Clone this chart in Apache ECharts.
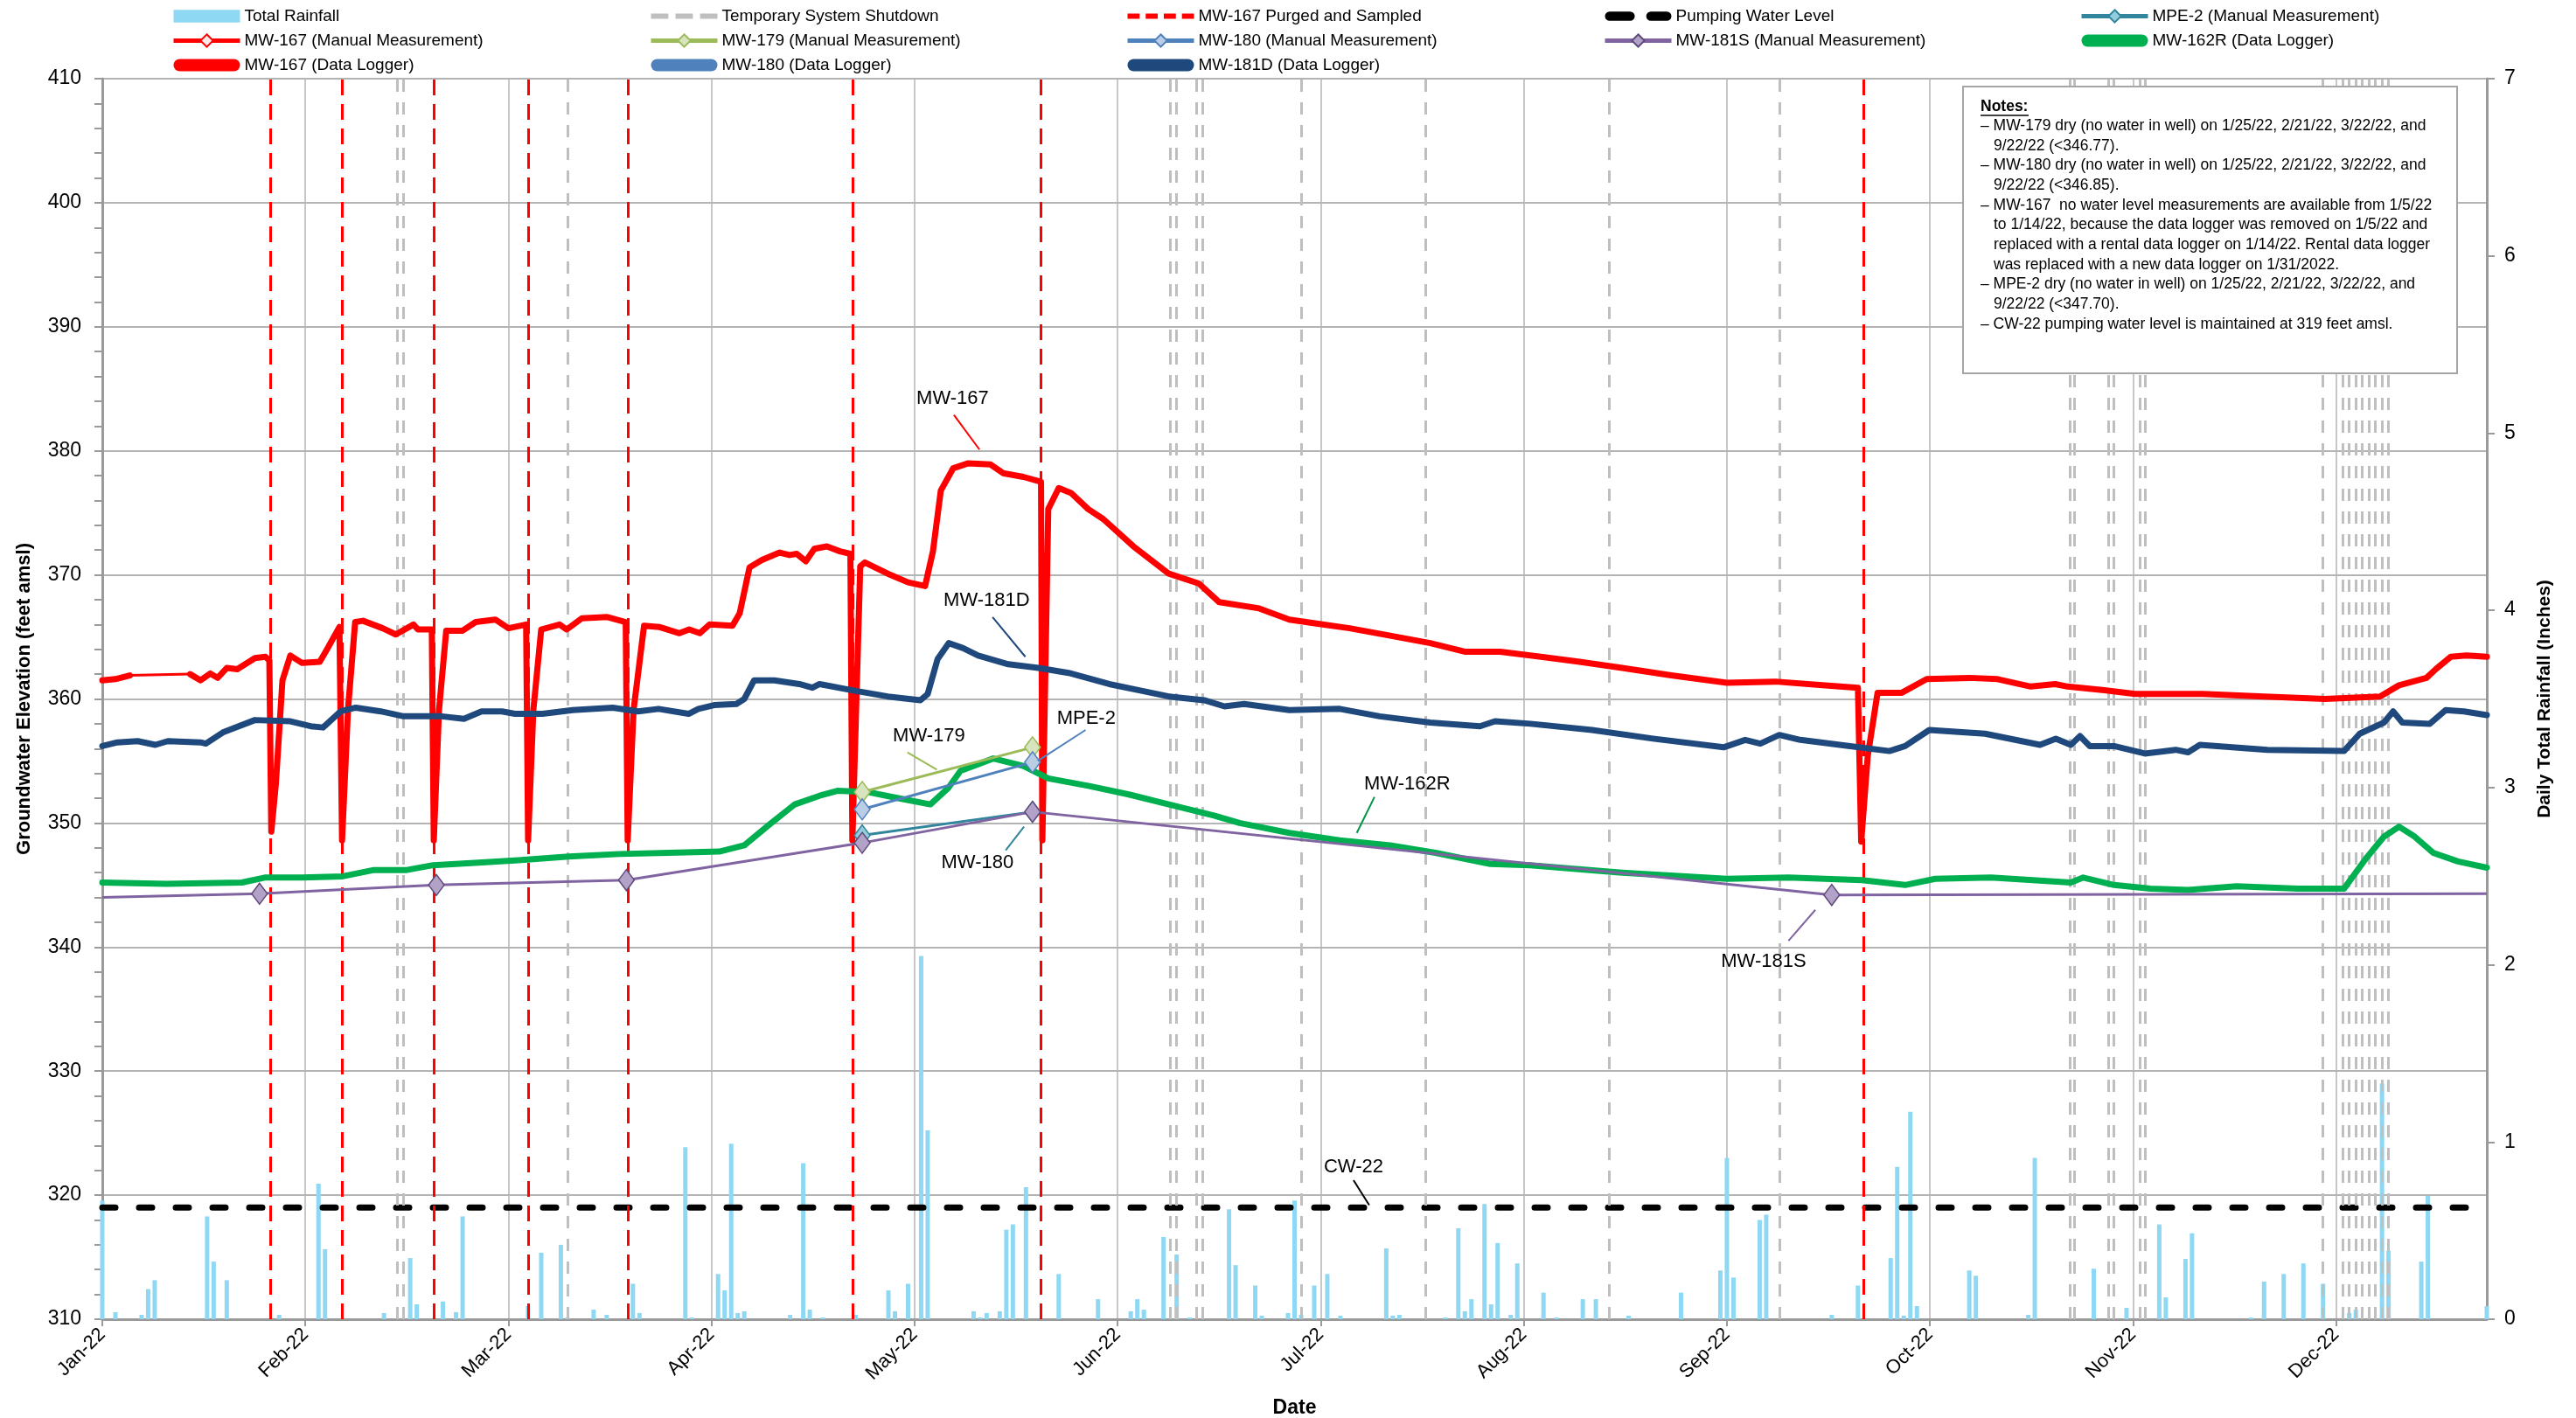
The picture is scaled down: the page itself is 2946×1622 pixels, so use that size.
<!DOCTYPE html>
<html>
<head>
<meta charset="utf-8">
<script src="https://cdn.jsdelivr.net/npm/echarts@6/dist/echarts.min.js"></script>
<style>
html, body { margin: 0; padding: 0; background: #fff; }
#chart { width: 2946px; height: 1622px; }
</style>
</head>
<body>
<div id="chart"></div>
<script>
"use strict";

// ---- data (x = day of 2022, 0 = Jan 1) ----
var monthLabels = ['Jan-22', 'Feb-22', 'Mar-22', 'Apr-22', 'May-22', 'Jun-22',
    'Jul-22', 'Aug-22', 'Sep-22', 'Oct-22', 'Nov-22', 'Dec-22'];

var rainDays = [0, 2, 6, 7, 8, 16, 17, 19, 27, 33, 34, 43, 47, 48, 52, 54, 55, 65, 67, 70, 71, 75, 77, 81, 82,
    89, 90, 94, 95, 96, 97, 98, 105, 107, 108, 110, 115, 120, 121, 123, 125, 126, 133, 134, 135, 137, 138, 139,
    141, 146, 152, 157, 158, 159, 162, 164, 166, 172, 173, 176, 177, 181, 182, 183, 185, 187, 189, 196, 197,
    198, 205, 207, 208, 209, 211, 212, 213, 215, 216, 220, 222, 226, 228, 233, 241, 247, 248, 249, 253, 254,
    264, 268, 273, 274, 275, 276, 277, 285, 286, 294, 295, 304, 309, 314, 315, 318, 319, 328, 330, 333, 336,
    339, 343, 344, 348, 349, 354, 355, 364];
var rainInches = [0.67, 0.04, 0.025, 0.17, 0.22, 0.58, 0.325, 0.22, 0.025, 0.765, 0.395, 0.035, 0.345, 0.084,
    0.10, 0.04, 0.58, 0.074, 0.375, 0.42, 0.01, 0.054, 0.025, 0.20, 0.035,
    0.97, 0.01, 0.255, 0.163, 0.99, 0.035, 0.045, 0.025, 0.88, 0.054, 0.01, 0.025, 0.163, 0.045, 0.20, 2.05,
    1.065, 0.045, 0.01, 0.035, 0.045, 0.505, 0.535,
    0.745, 0.255, 0.113, 0.045, 0.113, 0.054, 0.464, 0.365, 0.01, 0.62, 0.305, 0.19, 0.02, 0.035, 0.67, 0.025,
    0.19, 0.255, 0.02, 0.40, 0.02,
    0.025, 0.01, 0.513, 0.045, 0.113, 0.65, 0.084, 0.43, 0.025, 0.315, 0.15, 0.01, 0.113, 0.113, 0.02, 0.15,
    0.275, 0.91, 0.235, 0.56, 0.59,
    0.025, 0.19, 0.345, 0.86, 0.02, 1.17, 0.074, 0.275, 0.245, 0.025, 0.91, 0.285, 0.064, 0.535, 0.123, 0.34,
    0.485, 0.01, 0.212, 0.255, 0.315,
    0.20, 0.035, 0.054, 1.33, 0.385, 0.325, 0.695, 0.074];

var shutdownDays = [45, 46, 71, 163, 164, 167, 168, 183, 202, 230, 256, 300.3, 301, 306.3, 307, 311, 311.8,
    339, 342, 343, 344, 345, 346, 347, 348, 349];
var purgeDays = [25.6, 36.6, 50.6, 65.0, 80.3, 114.5, 143.2, 268.8];

var pumpingLevel = [[0, 319], [364, 319]];

var mw167Logger = [[0, 361.5], [2, 361.6], [4.2, 361.9], [8.8, null], [13.4, 362.0], [15, 361.5], [16.5, 362.05],
    [17.6, 361.7], [19, 362.5], [20.6, 362.4], [23.3, 363.3], [24.9, 363.4], [25.5, 363.1], [25.8, 349.3],
    [26.5, 353.2], [27.5, 361.5], [28.7, 363.5], [30.5, 362.9], [33.2, 363.0], [34.3, 364.0], [36.2, 365.8],
    [36.6, 348.6], [37.5, 359.1], [38.6, 366.2], [39.8, 366.3], [42.8, 365.7], [44.8, 365.2], [47.5, 366.0],
    [48.2, 365.6], [50.3, 365.6], [50.6, 348.6], [51.4, 359.1], [52.5, 365.5], [55, 365.5], [57, 366.2],
    [60, 366.4], [62, 365.7], [64.7, 366.0], [65, 348.6], [65.8, 359.1], [67, 365.6], [69.8, 366.0],
    [70.9, 365.6], [73.2, 366.5], [77.1, 366.6], [79.9, 366.2], [80.2, 348.6], [81.1, 359.1], [82.7, 365.9],
    [85, 365.8], [88.1, 365.3], [89.6, 365.6], [91.2, 365.3], [92.7, 366.0], [96.2, 365.9], [97.3, 366.9],
    [98.8, 370.6], [100.7, 371.2], [103.4, 371.8], [104.9, 371.6], [106, 371.7], [107.4, 371.1], [108.7, 372.1],
    [110.6, 372.3], [112.6, 371.9], [114.2, 371.7], [114.5, 348.6], [115.7, 370.7], [116.4, 371.0],
    [119.9, 370.1], [123, 369.4], [125.6, 369.1], [126.8, 371.9], [128, 376.8], [129.9, 378.6], [132.2, 379.0],
    [135.6, 378.9], [137.5, 378.2], [140.6, 377.9], [143.3, 377.5], [143.5, 348.6], [144.4, 375.3],
    [146, 377.0], [147.9, 376.6], [150.5, 375.3], [152.8, 374.5], [157.4, 372.3], [162.8, 370.1],
    [167.4, 369.3], [170.5, 367.8], [176.6, 367.3], [181.2, 366.4], [185.1, 366.1], [190.4, 365.7],
    [196.6, 365.1], [202.7, 364.5], [208.1, 363.8], [213.4, 363.8], [219.6, 363.4], [225.5, 363.0],
    [232, 362.5], [239.5, 361.9], [248, 361.3], [255.4, 361.4], [263, 361.1], [268, 360.9], [268.5, 348.5],
    [269.5, 355.4], [271, 360.5], [274.7, 360.5], [278.5, 361.6], [285, 361.7], [289.3, 361.6], [294.4, 361.0],
    [298.1, 361.2], [300, 361.0], [305.6, 360.7], [310.3, 360.4], [315.9, 360.4], [320.6, 360.4], [330, 360.2],
    [339.3, 360.0], [347.7, 360.2], [350.6, 361.1], [354.8, 361.7], [356.2, 362.4], [358.5, 363.4],
    [360.9, 363.5], [364, 363.4]];

var mw181dLogger = [[0, 356.2], [2.3, 356.5], [5.4, 356.6], [8.1, 356.3], [10, 356.6], [15, 356.5], [15.8, 356.4],
    [18.4, 357.3], [23.3, 358.3], [28.7, 358.2], [31.8, 357.8], [33.7, 357.7], [36.4, 359.0], [38.7, 359.3],
    [42.5, 359.0], [46, 358.6], [51.8, 358.6], [55.2, 358.4], [57.9, 359.0], [61, 359.0], [63, 358.8],
    [67.2, 358.8], [71.8, 359.1], [77.9, 359.3], [81.8, 359.0], [84.9, 359.2], [89.5, 358.8], [91, 359.2],
    [93.4, 359.5], [96.8, 359.6], [98, 360.0], [99.5, 361.5], [102.6, 361.5], [106.4, 361.2], [108.4, 360.9],
    [109.5, 361.2], [114.5, 360.7], [119.9, 360.2], [124.9, 359.9], [126, 360.4], [127.5, 363.2],
    [129.2, 364.5], [131.4, 364.1], [133.7, 363.5], [138.3, 362.8], [142.9, 362.5], [147.5, 362.1],
    [153.7, 361.2], [158.3, 360.7], [162.8, 360.2], [168.2, 359.9], [171.3, 359.4], [174.3, 359.6],
    [181.2, 359.1], [188.9, 359.2], [195, 358.6], [202.7, 358.1], [210.3, 357.8], [212.6, 358.2], [218, 358.0],
    [227.4, 357.5], [236.7, 356.8], [247.5, 356.1], [250.8, 356.7], [253.1, 356.4], [256, 357.1],
    [259.2, 356.7], [266.8, 356.2], [272.8, 355.8], [275.2, 356.2], [278.9, 357.5], [287.4, 357.2],
    [295.8, 356.3], [298.2, 356.8], [300.5, 356.3], [301.9, 357.0], [303.4, 356.2], [307.1, 356.2],
    [311.8, 355.6], [316.5, 355.9], [318.4, 355.7], [320.2, 356.3], [330.5, 355.9], [342.2, 355.8],
    [344.6, 357.2], [348.3, 358.1], [349.7, 359.0], [351.1, 358.1], [355.3, 358.0], [357.7, 359.1],
    [360.5, 359.0], [364, 358.7]];

var mw162rLogger = [[0, 345.2], [9.8, 345.1], [21.3, 345.2], [24.8, 345.6], [30.5, 345.6], [36.7, 345.7],
    [41.3, 346.2], [46.3, 346.2], [50.5, 346.6], [57.4, 346.8], [63.5, 347.0], [71.2, 347.3], [78.9, 347.5],
    [86.5, 347.6], [94.2, 347.7], [98, 348.2], [101.9, 349.9], [105.7, 351.5], [109.5, 352.2], [112.2, 352.6],
    [116.8, 352.5], [121.5, 352.0], [126.4, 351.5], [129.1, 352.8], [131, 354.2], [136, 355.2], [140.6, 354.6],
    [144.4, 353.6], [150.5, 353.0], [156.7, 352.3], [162.8, 351.5], [169.7, 350.6], [173.6, 350.0],
    [181.2, 349.2], [188.9, 348.6], [196.6, 348.2], [203.5, 347.6], [211.9, 346.7], [218, 346.6], [232, 346.0],
    [248, 345.5], [257.4, 345.6], [268.6, 345.4], [275.2, 345.0], [279.8, 345.5], [288.3, 345.6],
    [300.5, 345.2], [302.4, 345.6], [307.1, 345.0], [312.7, 344.7], [318.4, 344.6], [325.8, 344.9],
    [335.2, 344.7], [342.2, 344.7], [345.5, 347.1], [348.3, 348.9], [350.6, 349.7], [353, 348.9],
    [355.8, 347.6], [359.6, 346.9], [364, 346.4]];

var mw180Logger = [];
var mw167Manual = [[4.2, 361.9], [13.4, 362.0]];
var mw179Manual = [[116, 352.5], [142, 356.1]];
var mw180Manual = [[116, 351.1], [142, 354.9]];
var mpe2Manual = [[116, 349.0], [142, 350.9]];
var mw181sManual = [[0, 344.0], [24, 344.3], [51, 345.0], [80, 345.4], [116, 348.4], [142, 350.9],
    [264, 344.2], [364, 344.3]];

var notesLines = [
    ['– MW-179 dry (no water in well) on 1/25/22, 2/21/22, 3/22/22, and', 0],
    ['9/22/22 (<346.77).', 1],
    ['– MW-180 dry (no water in well) on 1/25/22, 2/21/22, 3/22/22, and', 0],
    ['9/22/22 (<346.85).', 1],
    ['– MW-167  no water level measurements are available from 1/5/22', 0],
    ['to 1/14/22, because the data logger was removed on 1/5/22 and', 1],
    ['replaced with a rental data logger on 1/14/22. Rental data logger', 1],
    ['was replaced with a new data logger on 1/31/2022.', 1],
    ['– MPE-2 dry (no water in well) on 1/25/22, 2/21/22, 3/22/22, and', 0],
    ['9/22/22 (<347.70).', 1],
    ['– CW-22 pumping water level is maintained at 319 feet amsl.', 0]
];

// label callouts: text anchor and leader line in data coordinates
var callouts = [
    { text: 'MW-167', at: [129.8, 384.2], from: [130.0, 382.9], to: [133.9, 380.1], color: '#ff0000' },
    { text: 'MW-181D', at: [135.0, 367.9], from: [135.9, 366.6], to: [140.9, 363.4], color: '#1f497d' },
    { text: 'MW-179', at: [126.2, 357.0], from: [122.9, 355.7], to: [127.4, 354.3], color: '#9bbb59' },
    { text: 'MPE-2', at: [150.2, 358.4], from: [150.1, 357.5], to: [142.8, 355.0], color: '#4f81bd' },
    { text: 'MW-180', at: [133.6, 346.8], from: [137.9, 347.8], to: [140.7, 349.7], color: '#31859c' },
    { text: 'MW-162R', at: [199.2, 353.1], from: [194.2, 352.1], to: [191.5, 349.2], color: '#00964a' },
    { text: 'MW-181S', at: [253.6, 338.85], from: [257.4, 340.5], to: [261.5, 343.0], color: '#8064a2' },
    { text: 'CW-22', at: [191.0, 322.3], from: [191.0, 321.2], to: [193.4, 319.2], color: '#000000' }
];

var FONT = "'Liberation Sans', Arial, sans-serif";
var GRID = '#b4b4b4';
var AXIS = '#9a9a9a';

var chart = echarts.init(document.getElementById('chart'));

var iconPill = 'path://M7,0h62a7,7 0 0 1 0,14h-62a7,7 0 0 1 0,-14z';
var iconRain = 'path://M0,0h69v13h-69z';
var iconGrayDash = 'path://M0,0h17v5h-17z M24,0h17v5h-17z M48,0h17v5h-17z';
var iconRedDash = 'path://M0,0h12v5h-12z M18,0h12v5h-12z M36,0h12v5h-12z M54,0h12v5h-12z';
var iconPump = 'path://M4,0h18a4,4 0 0 1 0,8h-18a4,4 0 0 1 0,-8z M40,0h14a4,4 0 0 1 0,8h-14a4,4 0 0 1 0,-8z';

function flat(name, icon) {
    return { name: name, icon: icon, itemStyle: { borderWidth: 0 } };
}
function manualItem(name) {
    return { name: name, lineStyle: { width: 5 } };
}

var legendCols = [
    [flat('Total Rainfall', iconRain), manualItem('MW-167 (Manual Measurement)'), flat('MW-167 (Data Logger)', iconPill)],
    [flat('Temporary System Shutdown', iconGrayDash), manualItem('MW-179 (Manual Measurement)'), flat('MW-180 (Data Logger)', iconPill)],
    [flat('MW-167 Purged and Sampled', iconRedDash), manualItem('MW-180 (Manual Measurement)'), flat('MW-181D (Data Logger)', iconPill)],
    [flat('Pumping Water Level', iconPump), manualItem('MW-181S (Manual Measurement)')],
    [manualItem('MPE-2 (Manual Measurement)'), flat('MW-162R (Data Logger)', iconPill)]
];
var legendX = [191, 737, 1282, 1828, 2373];

function loggerSeries(name, data, color) {
    return {
        name: name, type: 'line', data: data, symbol: 'none', z: 5,
        itemStyle: { color: color },
        lineStyle: { color: color, width: 7, cap: 'round', join: 'round' }
    };
}

function manualSeries(name, data, color, fill) {
    return {
        name: name, type: 'line', z: 6,
        data: data.map(function (p, i) {
            // end points carry the line to the axis edges only
            if (name.indexOf('181S') >= 0 && (i === 0 || i === data.length - 1)) {
                return { value: p, symbol: 'none' };
            }
            return p;
        }),
        symbol: 'diamond', symbolSize: [18, 24],
        itemStyle: { color: fill, borderColor: color, borderWidth: 1.5 },
        lineStyle: { color: color, width: 3 }
    };
}

function vLineSeries(name, days, color, dash) {
    return {
        name: name, type: 'line', data: [], symbol: 'none', z: 3,
        itemStyle: { color: color },
        lineStyle: { color: color, width: 3, type: dash },
        markLine: {
            silent: true, symbol: ['none', 'none'], animation: false,
            label: { show: false },
            lineStyle: { color: color, width: 3, type: dash },
            data: days.map(function (d) { return { xAxis: d }; })
        }
    };
}

var option = {
    animation: false,
    backgroundColor: '#fff',
    textStyle: { fontFamily: FONT, color: '#000' },
    grid: { left: 117, right: 102, top: 90, bottom: 113, outerBoundsMode: 'none' },
    legend: legendCols.map(function (col, i) {
        return {
            left: legendX[i], top: 4, orient: 'vertical', selectedMode: false,
            itemWidth: 76, itemHeight: 18, itemGap: 9,
            textStyle: { fontSize: 19, color: '#000', fontFamily: FONT },
            data: col
        };
    }),
    xAxis: {
        type: 'value', min: 0, max: 364, interval: 31,
        name: 'Date', nameLocation: 'middle', nameGap: 90,
        nameTextStyle: { fontSize: 23, fontWeight: 'bold', color: '#000', fontFamily: FONT },
        axisLine: { show: true, onZero: false, lineStyle: { color: AXIS, width: 3 } },
        axisTick: { show: true, length: 8, lineStyle: { color: AXIS, width: 2 } },
        axisLabel: {
            rotate: 45, fontSize: 22, color: '#000', margin: 14, showMaxLabel: false,
            formatter: function (v) {
                var i = Math.round(v / 31);
                return Math.abs(v - i * 31) < 0.01 && monthLabels[i] ? monthLabels[i] : '';
            }
        },
        splitLine: { show: true, lineStyle: { color: GRID, width: 1.5 } }
    },
    yAxis: [{
        type: 'value', min: 310, max: 410, interval: 10, position: 'left',
        name: 'Groundwater Elevation (feet amsl)', nameLocation: 'middle', nameGap: 78, nameRotate: 90,
        nameTextStyle: { fontSize: 22, fontWeight: 'bold', color: '#000', fontFamily: FONT },
        axisLine: { show: true, lineStyle: { color: AXIS, width: 3 } },
        axisTick: { show: true, length: 9, lineStyle: { color: AXIS, width: 2 } },
        minorTick: { show: true, splitNumber: 5, length: 9, lineStyle: { color: AXIS, width: 2 } },
        axisLabel: { fontSize: 23, color: '#000', margin: 24 },
        splitLine: { show: true, lineStyle: { color: GRID, width: 2 } }
    }, {
        type: 'value', min: 0, max: 7, interval: 1, position: 'right',
        name: 'Daily Total Rainfall (Inches)', nameLocation: 'middle', nameGap: 56, nameRotate: 90,
        nameTextStyle: { fontSize: 21, fontWeight: 'bold', color: '#000', fontFamily: FONT },
        axisLine: { show: true, lineStyle: { color: AXIS, width: 3 } },
        axisTick: { show: true, length: 9, lineStyle: { color: AXIS, width: 2 } },
        axisLabel: { fontSize: 23, color: '#000', margin: 20 },
        splitLine: { show: false }
    }],
    series: [
        {
            name: 'Total Rainfall', type: 'bar', yAxisIndex: 1, barWidth: 5, z: 1,
            itemStyle: { color: '#8ed8f3' },
            data: rainDays.map(function (d, i) { return [d, rainInches[i]]; })
        },
        vLineSeries('Temporary System Shutdown', shutdownDays, '#bfbfbf', [14, 12]),
        vLineSeries('MW-167 Purged and Sampled', purgeDays, '#ff0000', [18, 10]),
        {
            name: 'Pumping Water Level', type: 'line', data: pumpingLevel, symbol: 'none', z: 4,
            itemStyle: { color: '#000' },
            lineStyle: { color: '#000', width: 7, type: [15, 27], cap: 'round' }
        },
        loggerSeries('MW-167 (Data Logger)', mw167Logger, '#ff0000'),
        loggerSeries('MW-180 (Data Logger)', mw180Logger, '#4f81bd'),
        loggerSeries('MW-181D (Data Logger)', mw181dLogger, '#1f497d'),
        loggerSeries('MW-162R (Data Logger)', mw162rLogger, '#00b050'),
        Object.assign(manualSeries('MW-167 (Manual Measurement)', mw167Manual, '#ff0000', '#fde9e9'), { showSymbol: false }),
        manualSeries('MW-179 (Manual Measurement)', mw179Manual, '#9bbb59', '#d7e4bd'),
        manualSeries('MW-180 (Manual Measurement)', mw180Manual, '#4f81bd', '#b9cde5'),
        manualSeries('MPE-2 (Manual Measurement)', mpe2Manual, '#31859c', '#93cddd'),
        manualSeries('MW-181S (Manual Measurement)', mw181sManual, '#5f497a', '#b3a2c7')
    ]
};
option.series[option.series.length - 1].lineStyle.color = '#8064a2';

chart.setOption(option);

// callouts and notes box
var graphic = [];
callouts.forEach(function (c) {
    var t = chart.convertToPixel({ xAxisIndex: 0, yAxisIndex: 0 }, c.at);
    var a = chart.convertToPixel({ xAxisIndex: 0, yAxisIndex: 0 }, c.from);
    var b = chart.convertToPixel({ xAxisIndex: 0, yAxisIndex: 0 }, c.to);
    graphic.push({
        type: 'line', z: 50, shape: { x1: a[0], y1: a[1], x2: b[0], y2: b[1] },
        style: { stroke: c.color, lineWidth: 2 }
    });
    graphic.push({
        type: 'text', z: 50, x: t[0], y: t[1],
        style: { text: c.text, font: '22px ' + FONT, fill: '#000', align: 'center', verticalAlign: 'middle' }
    });
});

var boxX = 2245, boxY = 99;
graphic.push({
    type: 'rect', z: 60, shape: { x: boxX, y: boxY, width: 565, height: 328 },
    style: { fill: '#fff', stroke: '#a6a6a6', lineWidth: 2 }
});
graphic.push({
    type: 'text', z: 61, x: boxX + 20, y: boxY + 23,
    style: { text: 'Notes:', font: 'bold 17.5px ' + FONT, fill: '#000', verticalAlign: 'middle' }
});
graphic.push({
    type: 'line', z: 61, shape: { x1: boxX + 20, y1: boxY + 33, x2: boxX + 75, y2: boxY + 33 },
    style: { stroke: '#000', lineWidth: 1.5 }
});
notesLines.forEach(function (ln, i) {
    graphic.push({
        type: 'text', z: 61, x: boxX + 20 + (ln[1] ? 15 : 0), y: boxY + 45 + i * 22.7,
        style: { text: ln[0], font: '17.5px ' + FONT, fill: '#000', verticalAlign: 'middle' }
    });
});

chart.setOption({ graphic: graphic });
</script>
</body>
</html>
